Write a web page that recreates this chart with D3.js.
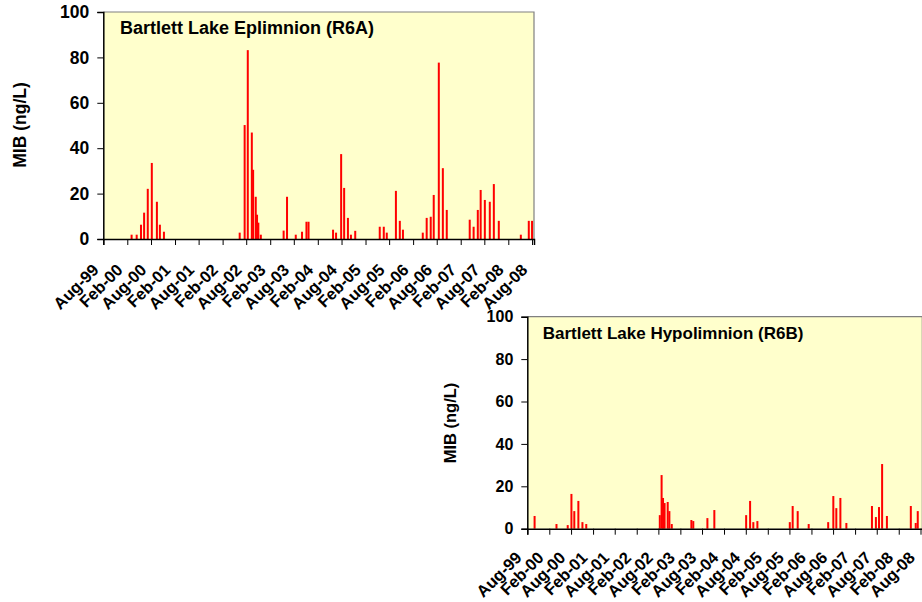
<!DOCTYPE html>
<html>
<head>
<meta charset="utf-8">
<script src="https://cdn.jsdelivr.net/npm/d3@7"></script>
<style>
  body { margin: 0; background: #fff; }
  text { font-family: "Liberation Sans", Arial, sans-serif; font-weight: bold; fill: #000; }
</style>
</head>
<body>
<div id="viz"></div>
<script>
// ---- data ----
var eplDates = ["2000-03-05","2000-04-13","2000-05-16","2000-06-09","2000-07-07","2000-08-07","2000-09-15","2000-10-08","2000-11-08",
  "2002-06-12","2002-07-20","2002-08-13","2002-09-13","2002-09-23","2002-10-13","2002-10-23","2002-11-02","2002-11-21",
  "2003-05-15","2003-06-10","2003-08-16","2003-10-03","2003-11-06","2003-11-22",
  "2004-05-28","2004-06-20","2004-07-29","2004-08-21","2004-09-19","2004-10-12","2004-11-14",
  "2005-05-21","2005-06-21","2005-07-14","2005-09-22","2005-10-22","2005-11-15",
  "2006-04-16","2006-05-16","2006-06-16","2006-07-09","2006-08-17","2006-09-17","2006-10-17",
  "2007-04-11","2007-05-11","2007-06-12","2007-07-04","2007-08-05","2007-09-12","2007-10-13","2007-11-20",
  "2008-05-07","2008-07-07","2008-08-01"];
var eplValues = [1.9,1.9,6.3,11.6,22.1,33.5,16.4,6.3,3.2,
  2.8,50.2,83.2,46.9,30.5,18.6,10.7,7.2,1.9,
  3.7,18.6,1.9,3.2,7.6,7.6,
  4.1,2.8,37.4,22.5,9.3,1.9,3.6,
  5.4,5.4,2.8,21.2,8.0,4.1,
  2.8,9.3,9.8,19.4,77.7,31.2,12.8,
  8.5,5.4,12.8,21.6,17.2,16.4,24.2,8.0,
  1.9,8.0,8.0];

var hypDates = ["1999-10-01","2000-04-01","2000-07-04","2000-08-04","2000-08-28","2000-10-01","2000-11-04","2000-12-06",
  "2002-08-13","2002-08-28","2002-09-09","2002-09-22","2002-10-18","2002-11-01","2002-11-21",
  "2003-05-04","2003-05-20","2003-09-15","2003-11-12",
  "2004-08-04","2004-09-06","2004-10-03","2004-11-06",
  "2005-08-04","2005-08-28","2005-10-09","2006-01-09",
  "2006-06-21","2006-08-03","2006-08-28","2006-10-01","2006-11-20",
  "2007-06-22","2007-07-25","2007-08-20","2007-09-15","2007-10-25",
  "2008-05-12","2008-06-22","2008-07-09"];
var hypValues = [6.0,2.2,1.7,16.4,8.3,13.1,3.1,2.2,
  6.4,25.3,14.5,12.1,12.6,8.3,2.2,
  4.1,3.6,5.0,8.8,
  6.4,13.1,3.1,3.6,
  3.1,10.7,8.3,2.2,
  3.1,15.4,9.7,14.5,2.7,
  10.7,5.5,10.2,30.5,6.0,
  10.7,2.7,8.3];

var yTicks = [0, 20, 40, 60, 80, 100];
var axisStart = "1999-08-01", axisEnd = "2008-08-16";

var parse = d3.timeParse("%Y-%m-%d");
var fmt = d3.timeFormat("%b-%y");

var svg = d3.select("#viz").append("svg")
    .attr("width", 922)
    .attr("height", 602);

function drawPanel(p) {
  var x = d3.scaleTime()
    .domain([parse(axisStart), parse(axisEnd)])
    .range([p.left, p.right]);
  var y = d3.scaleLinear()
    .domain([0, 100])
    .range([p.bottom, p.top]);

  var g = svg.append("g");

  // plot area
  g.append("rect")
      .attr("x", p.left).attr("y", p.top)
      .attr("width", p.right - p.left).attr("height", p.bottom - p.top)
      .attr("fill", "#ffffcc");
  g.append("path")
      .attr("d", "M" + p.left + "," + p.top + "H" + p.right + "V" + p.bottom)
      .attr("fill", "none")
      .attr("stroke", "#808080")
      .attr("stroke-width", 1.2);

  // bars
  var data = p.dates.map(function(d, i) { return {date: parse(d), v: p.values[i]}; });
  g.selectAll(".bar").data(data).enter().append("rect")
      .attr("x", function(d) { return x(d.date) - 1; })
      .attr("width", 2)
      .attr("y", function(d) { return y(d.v); })
      .attr("height", function(d) { return y(0) - y(d.v); })
      .attr("fill", "#ff0000");

  // y axis
  var ya = g.append("g")
      .attr("transform", "translate(" + p.left + ",0)")
      .call(d3.axisLeft(y).tickValues(yTicks).tickSize(6).tickPadding(8).tickFormat(d3.format("d")));
  ya.select(".domain").attr("stroke", "#000").attr("stroke-width", 1.5);
  ya.selectAll(".tick line").attr("stroke", "#000");
  ya.selectAll("text").attr("font-size", p.yFont + "px").attr("font-family", null);

  // x axis
  var monthTicks = d3.timeMonth.range(parse(axisStart), d3.timeDay.offset(parse(axisEnd), 1), 6);
  var xa = g.append("g")
      .attr("transform", "translate(0," + p.bottom + ")")
      .call(d3.axisBottom(x).tickValues(monthTicks).tickSize(6).tickFormat(fmt));
  xa.select(".domain").attr("stroke", "#000").attr("stroke-width", 1.5);
  xa.selectAll(".tick line").attr("stroke", "#000");
  xa.selectAll("text")
      .attr("font-size", p.xFont + "px")
      .attr("font-family", null)
      .attr("text-anchor", "end")
      .attr("y", 0).attr("dy", 0)
      .attr("transform", "translate(" + p.xdx + "," + p.xdy + ") rotate(-45)");

  // titles
  g.append("text")
      .attr("x", p.titleX).attr("y", p.titleY)
      .attr("font-size", p.titleFont + "px")
      .text(p.title);
  g.append("text")
      .attr("transform", "translate(" + p.ylabX + "," + p.ylabY + ") rotate(-90)")
      .attr("text-anchor", "middle")
      .attr("dy", "0.35em")
      .attr("font-size", p.ylabFont + "px")
      .text("MIB (ng/L)");
}

drawPanel({
  left: 103.3, right: 534, top: 12, bottom: 239,
  dates: eplDates, values: eplValues,
  title: "Bartlett Lake Eplimnion (R6A)", titleX: 120, titleY: 34, titleFont: 18,
  yFont: 17.5, xFont: 16.5, xdx: -4, xdy: 32,
  ylabX: 20, ylabY: 125, ylabFont: 17.5
});

drawPanel({
  left: 527.3, right: 922.3, top: 316.7, bottom: 528.7,
  dates: hypDates, values: hypValues,
  title: "Bartlett Lake Hypolimnion (R6B)", titleX: 542.7, titleY: 339.3, titleFont: 17,
  yFont: 16, xFont: 16.5, xdx: -5, xdy: 30,
  ylabX: 450, ylabY: 423, ylabFont: 16.5
});
</script>
</body>
</html>
